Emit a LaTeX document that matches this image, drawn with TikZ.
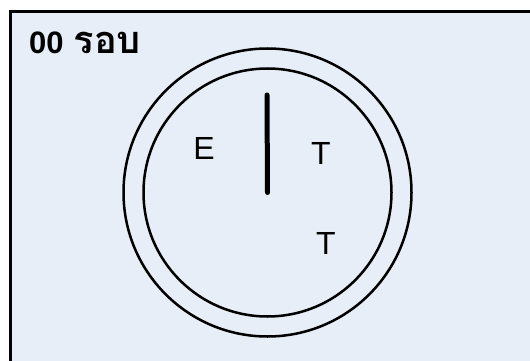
\documentclass[tikz,border=0pt]{standalone}
\usepackage{fontspec}
\setmainfont{Liberation Sans}
\newfontfamily\thaifont[Script=Thai]{Loma}
\usepackage{tikz}
\definecolor{dialbg}{HTML}{E7EEF8}
\tikzset{
  letterlbl/.style={inner sep=0pt, font=\fontsize{32}{36}\selectfont},
  ringline/.style={draw=black, line width=2.5pt},
  needleline/.style={line width=5pt, line cap=round}
}
\begin{document}
\begin{tikzpicture}[x=1pt, y=-1pt]
  \useasboundingbox (0,0) rectangle (530,361);
  \clip (0,0) rectangle (530,361);

  % panel
  \draw[fill=dialbg, line width=3pt] (10,11.5) rectangle (560,400);

  % title
  \node (title) [anchor=base west, inner sep=0pt]
    at (29,53) {{\fontsize{31}{36}\selectfont\bfseries 00}\hspace{10pt}{\thaifont\fontsize{38}{42}\selectfont\bfseries รอบ}};

  % dial
  \coordinate (c) at (267.5,192.5);
  \draw[ringline] (c) circle[radius=144];
  \draw[ringline] (c) circle[radius=124];
  \coordinate (tip) at (267,95);
  \draw[needleline] (c) -- (tip);

  % letters
  \node (e)  [letterlbl] at (204,148) {E};
  \node (t1) [letterlbl] at (321,153) {T};
  \node (t2) [letterlbl] at (326,243) {T};
\end{tikzpicture}
\end{document}
